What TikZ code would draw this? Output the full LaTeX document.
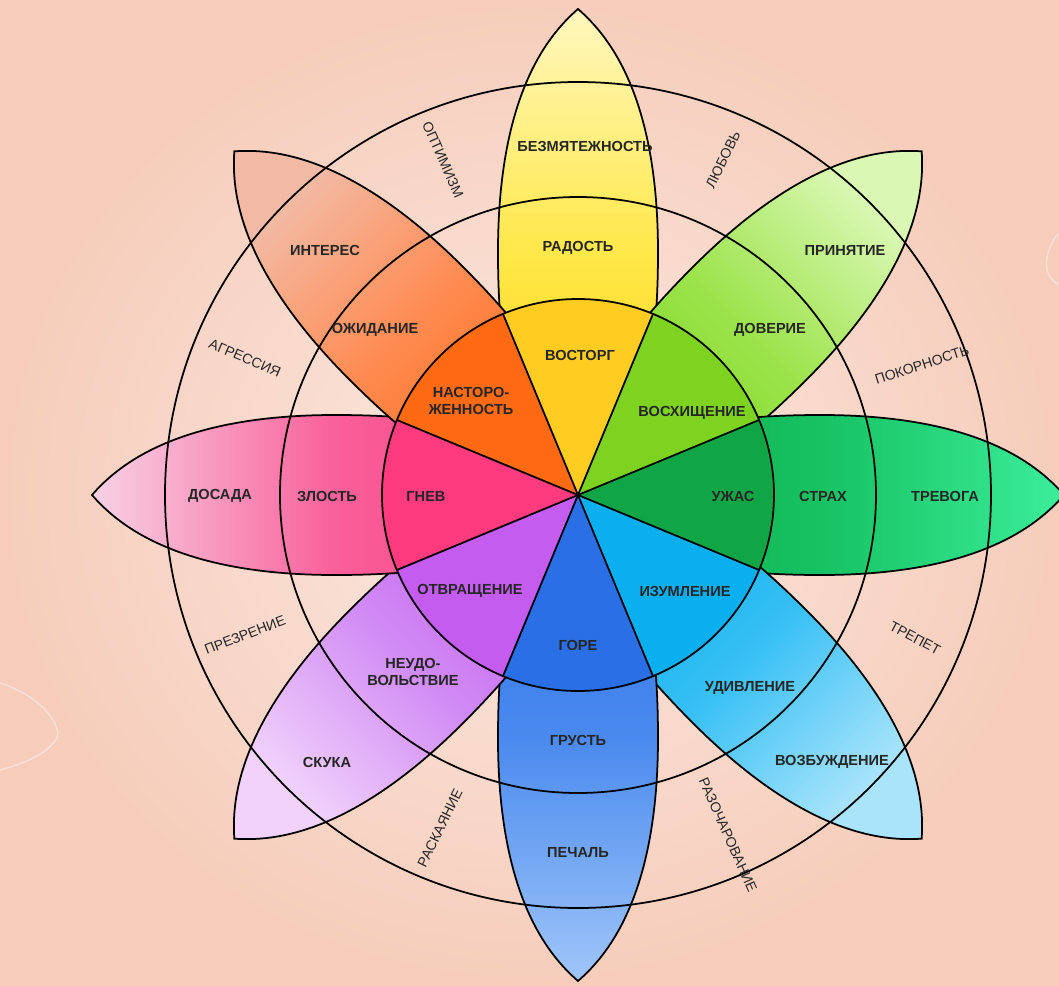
\documentclass[tikz,border=0pt]{standalone}
\usepackage{fontspec}
\setmainfont{Liberation Sans}
\usetikzlibrary{calc}

% petal colours: W = inner wedge, A = base, B = middle, C = tip
\definecolor{bglight}{HTML}{FCE9E1}
\definecolor{bgpeach}{HTML}{F6CDBB}
\definecolor{bgline}{HTML}{F9E0D6}
\definecolor{emotxt}{HTML}{262626}
\definecolor{dyadtxt}{HTML}{262626}
\definecolor{yelW}{HTML}{FFCC22}\definecolor{yelA}{HTML}{FFD000}\definecolor{yelB}{HTML}{FFE84A}\definecolor{yelC}{HTML}{FFF7BE}
\definecolor{limW}{HTML}{7ED321}\definecolor{limA}{HTML}{7ED321}\definecolor{limB}{HTML}{9BE34A}\definecolor{limC}{HTML}{DAF8B4}
\definecolor{grnW}{HTML}{10A646}\definecolor{grnA}{HTML}{10A848}\definecolor{grnB}{HTML}{16C262}\definecolor{grnC}{HTML}{3CEE9A}
\definecolor{cyaW}{HTML}{0AAFEF}\definecolor{cyaA}{HTML}{00AEEF}\definecolor{cyaB}{HTML}{38C0F4}\definecolor{cyaC}{HTML}{AAE4FA}
\definecolor{bluW}{HTML}{2A6FE6}\definecolor{bluA}{HTML}{2A6FE6}\definecolor{bluB}{HTML}{4A8AEE}\definecolor{bluC}{HTML}{A0C6F8}
\definecolor{purW}{HTML}{C45CF0}\definecolor{purA}{HTML}{C458F0}\definecolor{purB}{HTML}{D08AF4}\definecolor{purC}{HTML}{F0D2FA}
\definecolor{pinW}{HTML}{FF3A7E}\definecolor{pinA}{HTML}{FF3A7E}\definecolor{pinB}{HTML}{F8609A}\definecolor{pinC}{HTML}{F8D2E4}
\definecolor{ornW}{HTML}{FF6A12}\definecolor{ornA}{HTML}{FF6A10}\definecolor{ornB}{HTML}{FF8A50}\definecolor{ornC}{HTML}{F2BAA4}

\tikzset{
  petal/.style={draw=black, line width=1pt},
  ring/.style={draw=black, line width=1pt},
  emo/.style={font=\fontsize{8.3}{9.5}\selectfont\bfseries, text=emotxt, align=center, inner sep=1pt},
  dyad/.style={font=\fontsize{8}{9}\selectfont, text=dyadtxt, inner sep=1pt},
}

\begin{document}
\begin{tikzpicture}[x=0.02cm, y=0.02cm]
  \useasboundingbox (-578,-490) rectangle (481,495);
  \shade[inner color=bglight, outer color=bgpeach] (-578,-490) rectangle (481,495);
  % faint background strokes
  \draw[bgline, line width=0.8pt] (-578,-188) .. controls (-540,-200) and (-520,-225) .. (-520,-240)
      .. controls (-525,-255) and (-550,-268) .. (-578,-275);
  \draw[bgline, line width=0.8pt] (481,262) .. controls (470,250) and (466,232) .. (470,222)
      .. controls (474,214) and (478,212) .. (481,210);
  \coordinate (hub) at (0,0);

  % petals
  \foreach \a/\cl/\cm/\ct in {90/yelA/yelB/yelC, 45/limA/limB/limC, 0/grnA/grnB/grnC,
      -45/cyaA/cyaB/cyaC, -90/bluA/bluB/bluC, -135/purA/purB/purC,
      180/pinA/pinB/pinC, 135/ornA/ornB/ornC} {
    \shade[petal, rotate=\a, left color=\cl, right color=\ct, middle color=\cm, shading angle=\a+90]
      (hub) .. controls (40,-60) and (120,-80) .. (243,-80)
            .. controls (400,-80) and (460,-30) .. (486,0)
            .. controls (460,30) and (400,80) .. (243,80)
            .. controls (120,80) and (40,60) .. (hub) -- cycle;
  }

  % inner wedges
  \foreach \a/\cw in {90/yelW, 45/limW, 0/grnW, -45/cyaW, -90/bluW, -135/purW, 180/pinW, 135/ornW} {
    \fill[\cw] (hub) -- ({\a-22.5}:196) arc[start angle=\a-22.5, end angle=\a+22.5, radius=196] -- cycle;
  }
  \foreach \a in {22.5,67.5,...,337.5} {\draw[petal] (hub) -- (\a:196);}

  % rings
  \draw[ring] (hub) circle[radius=196];
  \draw[ring] (hub) circle[radius=298];
  \draw[ring] (hub) circle[radius=413];

  % inner ring
  \node[emo] (vigilance) at (-107,94) {НАСТОРО-\\ЖЕННОСТЬ};
  \node[emo] (ecstasy) at (2,140) {ВОСТОРГ};
  \node[emo] (admiration) at (114,82) {ВОСХИЩЕНИЕ};
  \node[emo] (terror) at (155,-1) {УЖАС};
  \node[emo] (amazement) at (107,-96) {ИЗУМЛЕНИЕ};
  \node[emo] (grief) at (0,-150) {ГОРЕ};
  \node[emo] (loathing) at (-108,-96) {ОТВРАЩЕНИЕ};
  \node[emo] (rage) at (-152,-1) {ГНЕВ};

  % middle ring
  \node[emo] (anticipation) at (-203,165) {ОЖИДАНИЕ};
  \node[emo] (joy) at (0,247) {РАДОСТЬ};
  \node[emo] (trust) at (192,165) {ДОВЕРИЕ};
  \node[emo] (fear) at (245,-1) {СТРАХ};
  \node[emo] (surprise) at (172,-193) {УДИВЛЕНИЕ};
  \node[emo] (sadness) at (0,-245) {ГРУСТЬ};
  \node[emo] (disgust) at (-165,-177) {НЕУДО-\\ВОЛЬСТВИЕ};
  \node[emo] (anger) at (-251,-1) {ЗЛОСТЬ};

  % outer ring
  \node[emo] (interest) at (-253,245) {ИНТЕРЕС};
  \node[emo] (serenity) at (7,349) {БЕЗМЯТЕЖНОСТЬ};
  \node[emo] (acceptance) at (267,245) {ПРИНЯТИЕ};
  \node[emo] (apprehension) at (367,-1) {ТРЕВОГА};
  \node[emo] (distraction) at (254,-267) {ВОЗБУЖДЕНИЕ};
  \node[emo] (pensiveness) at (0,-358) {ПЕЧАЛЬ};
  \node[emo] (boredom) at (-251,-267) {СКУКА};
  \node[emo] (annoyance) at (-358,-1) {ДОСАДА};

  % dyads between petals
  \node[dyad, rotate=-66] (optimism) at (-135,335) {ОПТИМИЗМ};
  \node[dyad, rotate=64] (love) at (145,335) {ЛЮБОВЬ};
  \node[dyad, rotate=18] (submission) at (344,130) {ПОКОРНОСТЬ};
  \node[dyad, rotate=-28] (awe) at (337,-143) {ТРЕПЕТ};
  \node[dyad, rotate=-66] (disapproval) at (150,-340) {РАЗОЧАРОВАНИЕ};
  \node[dyad, rotate=64] (remorse) at (-138,-333) {РАСКАЯНИЕ};
  \node[dyad, rotate=21] (contempt) at (-333,-140) {ПРЕЗРЕНИЕ};
  \node[dyad, rotate=-23] (aggression) at (-333,137) {АГРЕССИЯ};
\end{tikzpicture}
\end{document}
